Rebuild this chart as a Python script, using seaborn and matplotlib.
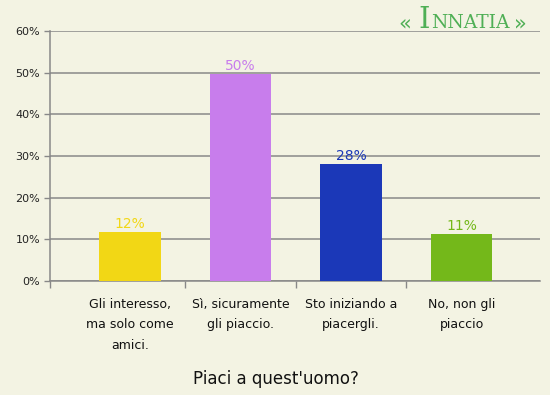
import matplotlib
matplotlib.use("Agg")
import matplotlib.pyplot as plt
import seaborn as sns
import pandas as pd
from matplotlib.ticker import FixedLocator, PercentFormatter

categories = ["Gli interesso,\nma solo come\namici.",
              "Sì, sicuramente\ngli piaccio.",
              "Sto iniziando a\npiacergli.",
              "No, non gli\npiaccio"]
values = [11.8, 49.7, 28.1, 11.3]
value_labels = ["12%", "50%", "28%", "11%"]
colors = ["#F2D715", "#C87DEC", "#1B38B8", "#74B81A"]
title = "Piaci a quest'uomo?"
yticks = [0, 10, 20, 30, 40, 50, 60]

bg = "#F3F3E3"
grid_c = "#888888"

sns.set_theme(style="white")
plt.rcParams["font.family"] = ["DejaVu Sans"]

fig = plt.figure(figsize=(5.5, 3.95), dpi=100, facecolor=bg)
ax = fig.add_axes([50/550, (395-281)/395, 490/550, 250/395])
ax.set_facecolor(bg)

df = pd.DataFrame({"cat": categories, "val": values})
sns.barplot(data=df, x="cat", y="val", hue="cat", palette=colors,
            legend=False, width=0.56, ax=ax, saturation=1, zorder=3,
            linewidth=0, edgecolor="none")

ax.set_xlim(-0.724, 3.71)
ax.set_ylim(0, 60.05)
ax.set_yticks(yticks)
ax.yaxis.set_major_formatter(PercentFormatter(decimals=0))
ax.yaxis.grid(True, color=grid_c, linewidth=1.1, zorder=0)
ax.set_axisbelow(True)
ax.tick_params(axis="y", length=4, width=1, color=grid_c, labelsize=8,
               labelcolor="#222222", pad=3, left=True)

ax.set_xticks(range(len(categories)))
ax.set_xticklabels(categories, fontsize=9, color="#111111", linespacing=1.75,
                   va="top")
ax.tick_params(axis="x", which="major", length=0, pad=12)
ax.xaxis.set_minor_locator(FixedLocator([-0.724, 0.5, 1.5, 2.5]))
ax.tick_params(axis="x", which="minor", length=5, width=1, color=grid_c,
               bottom=True, direction="out")

for s in ["top", "right"]:
    ax.spines[s].set_visible(False)
for s in ["left", "bottom"]:
    ax.spines[s].set_color(grid_c)
    ax.spines[s].set_linewidth(1.1)

ax.set_xlabel("")
ax.set_ylabel("")

for i, (v, lab, c) in enumerate(zip(values, value_labels, colors)):
    ax.text(i, v + 0.2, lab, ha="center", va="bottom", color=c, fontsize=10,
            zorder=4)

fig.text(276/550, 1 - 379/395, title, ha="center", va="center",
         fontsize=12, color="#111111")

# logo
logo_c = "#4FAF55"
fig.text(398/550, 1 - 23/395, "«", ha="left", va="center", fontsize=15,
         color=logo_c)
fig.text(418/550, 1 - 20/395, "I", ha="left", va="center", fontsize=21,
         color=logo_c, family="DejaVu Serif")
fig.text(431/550, 1 - 23/395, "NNATIA", ha="left", va="center", fontsize=13.5,
         color=logo_c, family="DejaVu Serif")
fig.text(514/550, 1 - 23/395, "»", ha="left", va="center", fontsize=15,
         color=logo_c)

fig.savefig("out.png", dpi=100, facecolor=bg)
